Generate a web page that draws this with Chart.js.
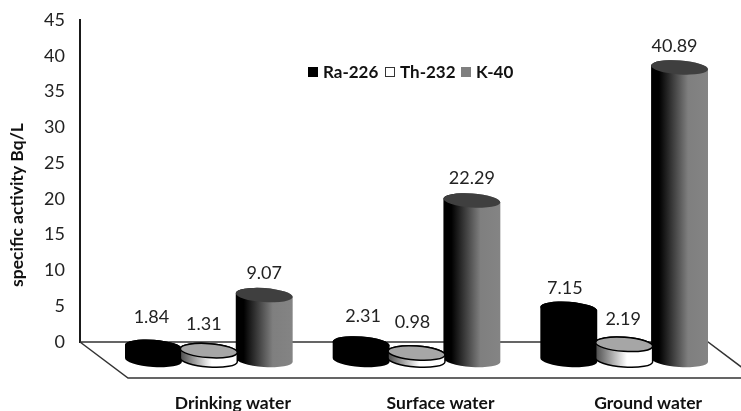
<!DOCTYPE html>
<html>
<head>
<meta charset="utf-8">
<title>specific activity</title>
<script src="https://cdn.jsdelivr.net/npm/chart.js@4"></script>
<style>
  html, body { margin: 0; padding: 0; background: #fff; overflow: hidden; }
  canvas { display: block; }
</style>
</head>
<body>
<canvas id="myChart" width="741" height="411"></canvas>
<script>
const categories = ['Drinking water', 'Surface water', 'Ground water'];
const ra226 = [1.84, 2.31, 7.15];
const th232 = [1.31, 0.98, 2.19];
const k40 = [9.07, 22.29, 40.89];
const seriesNames = ['Ra-226', 'Th-232', 'K-40'];
const yTitle = 'specific activity Bq/L';
const yMax = 45;
const yStep = 5;

const FONT = 'Lato, "Liberation Sans", sans-serif';
const DEPTH_X = 25;   // bars stand in the middle of the floor
const DEPTH_Y = 18;
const RY = 7;
const TILT = 0.07;

// small hand nudges for the value labels [dx, dy], per series then per category
const labelNudge = [
  [[-2, -9], [2, -6], [-4, 0]],
  [[-5, -5], [-4, -10], [-1, -4]],
  [[0, -1], [0, -1], [-5, 0]]
];

function bodyFill(ctx, name, x0, x1) {
  if (name === 'Ra-226') return '#000';
  const g = ctx.createLinearGradient(x0, 0, x1, 0);
  if (name === 'Th-232') {
    g.addColorStop(0, '#4d4d4d');
    g.addColorStop(0.55, '#fff');
    g.addColorStop(1, '#fff');
  } else {
    g.addColorStop(0, '#000');
    g.addColorStop(0.14, '#000');
    g.addColorStop(0.65, '#7f7f7f');
    g.addColorStop(1, '#848484');
  }
  return g;
}

const topColors = { 'Ra-226': '#000', 'Th-232': '#a6a6a6', 'K-40': '#3f3f3f' };

function drawCylinder(ctx, bar, name) {
  const rx = bar.width / 2;
  const cx = bar.x + DEPTH_X;
  const top = bar.y + DEPTH_Y;
  const base = bar.base + DEPTH_Y;

  ctx.beginPath();
  ctx.ellipse(cx, base, rx, RY, TILT, 0, Math.PI);
  ctx.ellipse(cx, top, rx, RY, TILT, Math.PI, Math.PI * 2);
  ctx.closePath();
  ctx.fillStyle = bodyFill(ctx, name, cx - rx, cx + rx);
  ctx.fill();

  ctx.lineWidth = 1.5;
  ctx.strokeStyle = '#000';
  if (name === 'Th-232') ctx.stroke();

  ctx.beginPath();
  ctx.ellipse(cx, top, rx, RY, TILT, 0, Math.PI * 2);
  ctx.fillStyle = topColors[name];
  ctx.fill();
  if (name === 'Th-232') ctx.stroke();
}

const floorPlugin = {
  id: 'floor',
  beforeDatasetsDraw(chart) {
    const ctx = chart.ctx;
    const a = chart.chartArea;
    ctx.save();
    ctx.strokeStyle = '#333';
    ctx.lineWidth = 1.5;
    ctx.beginPath();
    ctx.moveTo(a.left, a.bottom);
    ctx.lineTo(a.left + 48, a.bottom + 36);
    ctx.lineTo(741, a.bottom + 36);
    ctx.moveTo(a.left, a.bottom);
    ctx.lineTo(a.right + 5, a.bottom);
    ctx.lineTo(a.right + 53, a.bottom + 36);
    ctx.stroke();
    ctx.restore();
  }
};

const cylinderPlugin = {
  id: 'cylinders',
  afterDatasetsDraw(chart) {
    const ctx = chart.ctx;
    ctx.save();
    // K-40 at the back, Th-232 in front of its neighbours
    [2, 0, 1].forEach((i) => {
      chart.getDatasetMeta(i).data.forEach((bar) => {
        drawCylinder(ctx, bar, chart.data.datasets[i].label);
      });
    });

    ctx.font = '18px ' + FONT;
    ctx.fillStyle = '#222';
    ctx.textAlign = 'center';
    ctx.textBaseline = 'middle';
    chart.data.datasets.forEach((ds, i) => {
      chart.getDatasetMeta(i).data.forEach((bar, j) => {
        const n = labelNudge[i][j];
        ctx.fillText(ds.data[j].toFixed(2), bar.x + DEPTH_X + n[0], bar.y + DEPTH_Y - 21 + n[1]);
      });
    });
    ctx.restore();
  }
};

const legendPlugin = {
  id: 'midLegend',
  afterDraw(chart) {
    const ctx = chart.ctx;
    const fills = ['#000', '#fff', '#7f7f7f'];
    const boxes = [308, 385, 461];
    ctx.save();
    ctx.font = 'bold 17px ' + FONT;
    ctx.textBaseline = 'middle';
    ctx.textAlign = 'left';
    chart.data.datasets.forEach((ds, i) => {
      ctx.fillStyle = fills[i];
      ctx.fillRect(boxes[i], 67, 10, 10);
      if (i === 1) {
        ctx.strokeStyle = '#333';
        ctx.lineWidth = 1;
        ctx.strokeRect(boxes[i] + 0.5, 67.5, 9, 9);
      }
      ctx.fillStyle = '#111';
      ctx.fillText(ds.label, boxes[i] + 15, 73);
    });

    // axis title sits lower than the axis centre, so it is placed by hand
    ctx.translate(17, 205);
    ctx.rotate(-Math.PI / 2);
    ctx.textAlign = 'center';
    ctx.font = 'bold 17.5px ' + FONT;
    ctx.fillText(yTitle, 0, 0);
    ctx.restore();
  }
};

new Chart(document.getElementById('myChart').getContext('2d'), {
  type: 'bar',
  data: {
    labels: categories,
    datasets: [
      { label: seriesNames[0], data: ra226, backgroundColor: 'rgba(0,0,0,0)' },
      { label: seriesNames[1], data: th232, backgroundColor: 'rgba(0,0,0,0)' },
      { label: seriesNames[2], data: k40, backgroundColor: 'rgba(0,0,0,0)' },
    ],
  },
  plugins: [floorPlugin, cylinderPlugin, legendPlugin],
  options: {
    responsive: false,
    animation: false,
    categoryPercentage: 0.8,
    barPercentage: 1.03,
    layout: { padding: { left: 0, right: 38, top: 20, bottom: 0 } },
    plugins: { legend: { display: false }, tooltip: { enabled: false } },
    scales: {
      x: {
        grid: { display: false, drawTicks: false },
        border: { display: false },
        afterFit(scale) {
          scale.height = 69;
          scale.paddingLeft = 0;
          scale.paddingRight = 0;
        },
        ticks: {
          autoSkip: false,
          maxRotation: 0,
          minRotation: 0,
          padding: 51,
          labelOffset: 49,
          color: '#111',
          font: { family: FONT, size: 17.5, weight: 'bold' },
        },
      },
      y: {
        min: 0,
        max: yMax,
        afterFit(scale) {
          scale.width = 80;
          scale.paddingTop = 0;
          scale.paddingBottom = 0;
        },
        grid: { display: false, drawTicks: false },
        border: { display: true, color: '#1a1a1a', width: 2 },
        ticks: {
          stepSize: yStep,
          padding: 15,
          color: '#222',
          font: { family: FONT, size: 18 },
        },
      },
    },
  },
});
</script>
</body>
</html>
